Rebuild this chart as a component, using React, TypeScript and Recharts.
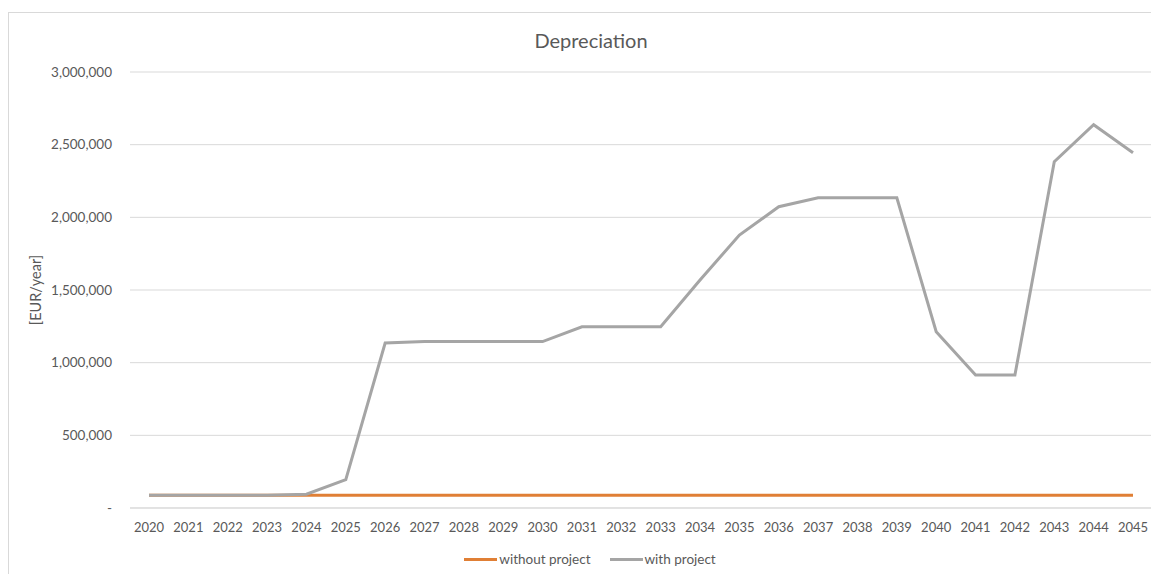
import React from 'react';
import { LineChart, Line, XAxis, YAxis, CartesianGrid, Legend, Label } from 'recharts';

const years = [
  '2020', '2021', '2022', '2023', '2024', '2025', '2026', '2027', '2028', '2029', '2030', '2031', '2032',
  '2033', '2034', '2035', '2036', '2037', '2038', '2039', '2040', '2041', '2042', '2043', '2044', '2045',
];

const withoutProject = [
  88000, 88000, 88000, 88000, 88000, 88000, 88000, 88000, 88000, 88000, 88000, 88000, 88000,
  88000, 88000, 88000, 88000, 88000, 88000, 88000, 88000, 88000, 88000, 88000, 88000, 88000,
];

const withProject = [
  88000, 88000, 88000, 88000, 95000, 195000, 1135000, 1145000, 1145000, 1145000, 1145000, 1247000, 1247000,
  1247000, 1569000, 1878000, 2073000, 2135000, 2135000, 2135000, 1213000, 915000, 915000, 2383000, 2637000, 2445000,
];

const yTicks = [0, 500000, 1000000, 1500000, 2000000, 2500000, 3000000];

const data = years.map((year, i) => ({
  year,
  without: withoutProject[i],
  with: withProject[i],
}));

const FONT = 'Lato, "Open Sans", sans-serif';
const TEXT = '#595959';
const ORANGE = '#E07F35';
const GRAY = '#A5A5A5';

const seriesKeys = [
  { name: 'without project', color: ORANGE },
  { name: 'with project', color: GRAY },
];

const formatTick = (v: number) => (v === 0 ? '-' : v.toLocaleString('en-US'));

const LegendContent = () => (
  <div style={{ display: 'flex', justifyContent: 'center', gap: 19, fontFamily: FONT, fontSize: 13.5, color: TEXT, paddingLeft: 17 }}>
    {seriesKeys.map((it) => (
      <div key={it.name} style={{ display: 'flex', alignItems: 'center' }}>
        <span style={{ display: 'inline-block', width: 33, height: 3, background: it.color, marginRight: 2 }} />
        <span>{it.name}</span>
      </div>
    ))}
  </div>
);

export default function App() {
  return (
    <div
      style={{
        position: 'relative',
        width: 1160,
        height: 570,
        marginTop: 4,
        border: '1px solid #d9d9d9',
        background: '#fff',
        boxSizing: 'border-box',
      }}
    >
      <div
        style={{
          position: 'absolute',
          left: 0,
          width: 1164,
          top: 15,
          textAlign: 'center',
          fontFamily: FONT,
          fontSize: 20,
          color: TEXT,
        }}
      >
        Depreciation
      </div>
      <LineChart
        width={1158}
        height={568}
        data={data}
        margin={{ top: 59, right: 13, left: 0, bottom: 10 }}
      >
        <CartesianGrid vertical={false} stroke="#d9d9d9" />
        <XAxis
          dataKey="year"
          axisLine={{ stroke: '#d9d9d9' }}
          tickLine={false}
          tickSize={0}
          tickMargin={15}
          height={43}
          interval={0}
          padding={{ left: 19, right: 21 }}
          tick={{ fill: TEXT, fontSize: 13, fontFamily: FONT }}
        />
        <YAxis
          width={121}
          domain={[0, 3000000]}
          ticks={yTicks}
          axisLine={false}
          tickLine={false}
          tickSize={0}
          tickMargin={18}
          tickFormatter={formatTick}
          tick={{ fill: TEXT, fontSize: 13.5, fontFamily: FONT }}
        >
          <Label
            value="[EUR/year]"
            angle={-90}
            position="insideLeft"
            offset={27}
            style={{ fill: TEXT, fontSize: 14.5, fontFamily: FONT, textAnchor: 'middle' }}
          />
        </YAxis>
        <Legend verticalAlign="bottom" height={20} content={<LegendContent />} />
        <Line
          type="linear"
          dataKey="without"
          name="without project"
          stroke={ORANGE}
          strokeWidth={3}
          dot={false}
          isAnimationActive={false}
        />
        <Line
          type="linear"
          dataKey="with"
          name="with project"
          stroke={GRAY}
          strokeWidth={3}
          dot={false}
          isAnimationActive={false}
        />
      </LineChart>
    </div>
  );
}
